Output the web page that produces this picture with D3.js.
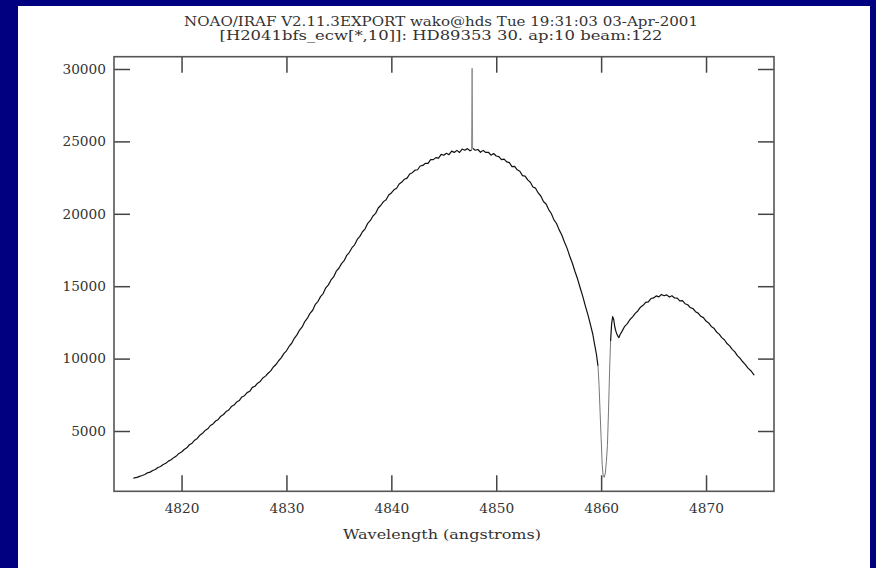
<!DOCTYPE html>
<html><head><meta charset="utf-8">
<script src="https://cdn.jsdelivr.net/npm/d3@7"></script>
<style>html,body{margin:0;padding:0;background:#000080;}</style>
</head><body>
<svg id="c" width="876" height="568"></svg>
<script>
const titleLines = ["NOAO/IRAF V2.11.3EXPORT wako@hds Tue 19:31:03 03-Apr-2001",
                    "[H2041bfs_ecw[*,10]]:  HD89353 30. ap:10 beam:122"];
const xLabel = "Wavelength (angstroms)";
const xTicks = [4820, 4830, 4840, 4850, 4860, 4870];
const yTicks = [5000, 10000, 15000, 20000, 25000, 30000];

const wavelength = [4815.4,4815.5,4815.75,4816,4816.25,4816.5,4816.75,4817,4817.25,4817.5,4817.75,
 4818,4818.25,4818.5,4818.75,4819,4819.25,4819.5,4819.75,4820,4820.25,4820.5,4820.75,
 4821,4821.25,4821.5,4821.75,4822,4822.25,4822.5,4822.75,4823,4823.25,4823.5,4823.75,
 4824,4824.25,4824.5,4824.75,4825,4825.25,4825.5,4825.75,4826,4826.25,4826.5,4826.75,
 4827,4827.25,4827.5,4827.75,4828,4828.25,4828.5,4828.75,4829,4829.25,4829.5,4829.75,
 4830,4830.25,4830.5,4830.75,4831,4831.25,4831.5,4831.75,4832,4832.25,4832.5,4832.75,
 4833,4833.25,4833.5,4833.75,4834,4834.25,4834.5,4834.75,4835,4835.25,4835.5,4835.75,
 4836,4836.25,4836.5,4836.75,4837,4837.25,4837.5,4837.75,4838,4838.25,4838.5,4838.75,
 4839,4839.25,4839.5,4839.75,4840,4840.25,4840.5,4840.75,4841,4841.25,4841.5,4841.75,
 4842,4842.25,4842.5,4842.75,4843,4843.25,4843.5,4843.75,4844,4844.25,4844.5,4844.75,
 4845,4845.25,4845.5,4845.75,4846,4846.25,4846.5,4846.75,4847,4847.25,4847.5,4847.65,4847.7,4847.75,
 4848,4848.25,4848.5,4848.75,4849,4849.25,4849.5,4849.75,4850,4850.25,4850.5,4850.75,
 4851,4851.25,4851.5,4851.75,4852,4852.25,4852.5,4852.75,4853,4853.25,4853.5,4853.75,
 4854,4854.25,4854.5,4854.75,4855,4855.25,4855.5,4855.75,4856,4856.25,4856.5,4856.75,
 4857,4857.25,4857.5,4857.75,4858,4858.25,4858.5,4858.75,4859,4859.2,4859.4,4859.55,4859.7,
 4859.8,4859.9,4860,4860.1,4860.2,4860.3,4860.4,4860.5,4860.6,4860.7,4860.8,4860.9,
 4861,4861.1,4861.2,4861.3,4861.4,4861.5,4861.6,4861.7,4861.8,4862,4862.25,4862.5,4862.75,
 4863,4863.25,4863.5,4863.75,4864,4864.25,4864.5,4864.75,4865,4865.25,4865.5,4865.75,
 4866,4866.25,4866.5,4866.75,4867,4867.25,4867.5,4867.75,4868,4868.25,4868.5,4868.75,
 4869,4869.25,4869.5,4869.75,4870,4870.25,4870.5,4870.75,4871,4871.25,4871.5,4871.75,
 4872,4872.25,4872.5,4872.75,4873,4873.25,4873.5,4873.75,4874,4874.25,4874.5,4874.6];

const flux = [1750,1760,1800,1870,1930,2000,2110,2160,2270,2340,2480,
 2550,2690,2770,2920,3010,3160,3270,3450,3550,3720,3840,4050,
 4160,4370,4490,4710,4840,5040,5150,5380,5490,5690,5800,6020,
 6140,6340,6450,6690,6790,7000,7100,7350,7440,7650,7740,8010,
 8090,8300,8420,8660,8790,8990,9150,9420,9590,9850,10050,10340,
 10540,10840,11060,11400,11640,11970,12190,12560,12790,13130,13340,13740,
 13940,14280,14490,14890,15090,15430,15640,16040,16240,16560,16760,17130,
 17340,17660,17860,18230,18440,18760,18960,19340,19540,19850,20030,20400,
 20590,20840,20970,21300,21440,21660,21760,22060,22190,22390,22460,22750,
 22840,23010,23040,23300,23340,23490,23480,23740,23740,23880,23840,24100,
 24040,24180,24080,24330,24240,24380,24240,24470,24390,24500,24350,24400,30050,24520,
 24390,24440,24250,24380,24240,24250,24050,24160,23990,23950,23740,23780,
 23590,23530,23260,23280,23040,22940,22640,22600,22340,22180,21850,21770,
 21440,21230,20850,20680,20290,20020,19580,19330,18890,18540,18050,17630,
 17090,16600,16030,15510,14890,14300,13630,13000,12300,11700,10900,10300,9500,
 8200,6300,4500,2700,1850,1800,2100,2900,4000,6300,9000,11200,
 12400,12900,12700,12200,11900,11700,11550,11450,11650,11900,12230,12420,12700,
 12880,13120,13290,13550,13680,13880,13920,14150,14190,14330,14260,14430,
 14340,14400,14250,14340,14190,14180,13990,14000,13790,13720,13520,13460,
 13240,13140,12920,12830,12590,12460,12220,12100,11840,11690,11450,11300,
 11040,10880,10640,10460,10190,10020,9780,9590,9340,9180,8950,8850];

const svg = d3.select("#c");
svg.append("rect").attr("width",876).attr("height",568).attr("fill","#000080");
svg.append("rect").attr("x",18).attr("y",6).attr("width",852).attr("height",562).attr("fill","#fff");

const L=114, R=774, T=56.7, B=491.3;
const x = d3.scaleLinear().domain([4813.56, 4876.48]).range([L, R]);
const y = d3.scaleLinear().domain([836, 30849]).range([B, T]);

const font = "DejaVu Serif";
const tc = "#333";

const tw = [514, 443];
[25.5, 39.5].forEach((by,i)=>{
  svg.append("text").attr("x",441).attr("y",by).attr("text-anchor","middle")
    .attr("font-family",font).attr("font-size",12).attr("fill",tc)
    .attr("textLength",tw[i]).attr("lengthAdjust","spacingAndGlyphs").text(titleLines[i]);
});

function styleAxis(g){
  g.select(".domain").remove();
  g.selectAll(".tick line").attr("stroke","#444").attr("stroke-width",1.5);
  g.selectAll(".tick text").attr("font-family",font).attr("font-size",13.7).attr("fill",tc);
}
svg.append("g").attr("transform",`translate(0,${B})`)
  .call(d3.axisBottom(x).tickValues(xTicks).tickSize(-16).tickPadding(12).tickFormat(d3.format("d")))
  .call(styleAxis);
svg.append("g").attr("transform",`translate(0,${T})`)
  .call(d3.axisTop(x).tickValues(xTicks).tickSize(-16).tickFormat(""))
  .call(styleAxis);
svg.append("g").attr("transform",`translate(${L},0)`)
  .call(d3.axisLeft(y).tickValues(yTicks).tickSize(-16).tickPadding(8).tickFormat(d3.format("d")))
  .call(styleAxis);
svg.append("g").attr("transform",`translate(${R},0)`)
  .call(d3.axisRight(y).tickValues(yTicks).tickSize(-16).tickFormat(""))
  .call(styleAxis);

svg.append("rect").attr("x",L).attr("y",T).attr("width",R-L).attr("height",B-T)
  .attr("fill","none").attr("stroke","#555").attr("stroke-width",1.6);

svg.append("text").attr("x",442).attr("y",538.5).attr("text-anchor","middle")
  .attr("font-family",font).attr("font-size",13.5).attr("fill",tc)
  .attr("textLength",198).attr("lengthAdjust","spacingAndGlyphs").text(xLabel);

const pts = wavelength.map((w,i)=>[w, flux[i]]);
const inDip = w => (w >= 4859.7 && w <= 4860.9);
const inSpike = w => (w >= 4847.65 && w <= 4847.75);
const lineGen = d3.line().x(d=>x(d[0])).y(d=>y(d[1]));
// main curve (black), with the steep dip and spike segments drawn lighter
svg.append("path").datum(pts)
  .attr("fill","none").attr("stroke","#111").attr("stroke-width",1.2).attr("stroke-linejoin","round")
  .attr("d", lineGen.defined(d => !(d[0] > 4859.7 && d[0] < 4860.9) && !(d[0] > 4847.65 && d[0] < 4847.75))(pts));
svg.append("path")
  .attr("fill","none").attr("stroke","#777").attr("stroke-width",1)
  .attr("d", d3.line().x(d=>x(d[0])).y(d=>y(d[1])).defined(d=>inDip(d[0]))(pts));
svg.append("path")
  .attr("fill","none").attr("stroke","#888").attr("stroke-width",1)
  .attr("d", d3.line().x(d=>x(d[0])).y(d=>y(d[1])).defined(d=>inSpike(d[0]))(pts));
</script>
</body></html>
